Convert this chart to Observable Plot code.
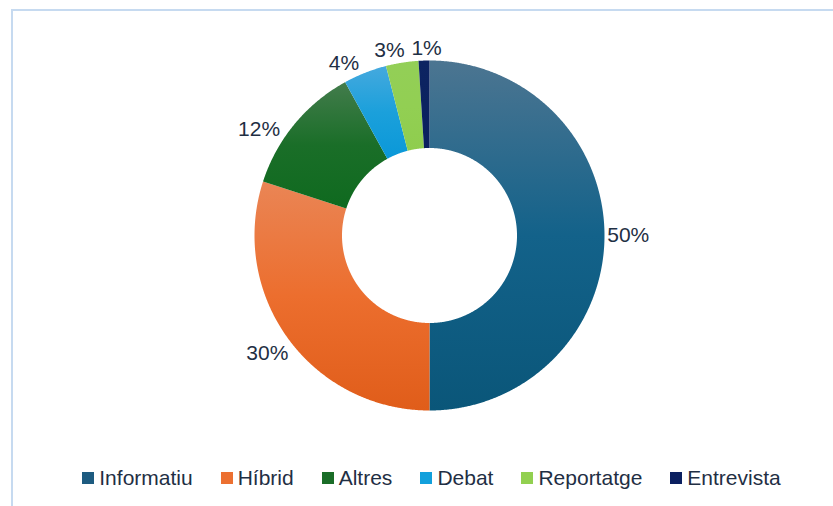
<!DOCTYPE html>
<html>
<head>
<meta charset="utf-8">
<script src="https://cdn.jsdelivr.net/npm/d3@7"></script>
<script src="https://cdn.jsdelivr.net/npm/@observablehq/plot@0.6"></script>
<style>
  html, body { margin: 0; padding: 0; background: #fff; }
  body { width: 833px; height: 506px; overflow: hidden; position: relative; font-family: "Liberation Sans", Arial, sans-serif; }
  #frame { position: absolute; left: 11px; top: 9px; width: 900px; height: 600px; border-left: 2px solid #c6daf0; border-top: 2px solid #c6daf0; }
  #chart { position: absolute; left: 0; top: 0; }
  #legend { position: absolute; left: 0; top: 466px; width: 803px; padding-left: 30px; display: flex; justify-content: center; align-items: center; font-size: 21px; color: #1f2f44; }
  .item { display: flex; align-items: center; margin: 0 14px; }
  .sw { width: 12px; height: 12px; margin-right: 5px; }
</style>
</head>
<body>
<div id="frame"></div>
<div id="chart"></div>
<div id="legend"></div>
<script>
const categories = ["Informatiu", "Híbrid", "Altres", "Debat", "Reportatge", "Entrevista"];
const values = [50, 30, 12, 4, 3, 1];
const labels = ["50%", "30%", "12%", "4%", "3%", "1%"];
const colorsTop = ["#4c7591", "#ea8555", "#437c4c", "#45a9de", "#93cf57", "#0d2462"];
const colorsMid = ["#13628a", "#ec6e2e", "#1a6e28", "#1ba0db", "#92cf53", "#0b2260"];
const colorsBottom = ["#0a5679", "#e05d1a", "#0f6a1f", "#0a98d8", "#8fcd4e", "#0a1f5e"];
const legendColors = ["#1d5b80", "#ec7031", "#1a6d28", "#12a0dc", "#92d050", "#0b2060"];
// label placement nudges (degrees along the ring), layout only
const labelNudge = [0, 0, -7.7, -4.8, -3.2, 0.9];

const W = 833, H = 460;
const cx = 429, cy = 235, R = 175;
const inner = 0.5;
const textColor = "#1f2f44";

const arcs = d3.pie().sort(null).value(d => d)(values);

// Build polygon outlines for each donut slice (in unit-radius data coordinates)
const pts = [];
arcs.forEach((a, i) => {
  const n = Math.max(4, Math.ceil((a.endAngle - a.startAngle) / 0.005));
  for (let k = 0; k <= n; k++) {
    const t = a.startAngle + (a.endAngle - a.startAngle) * k / n;
    pts.push({cat: categories[i], grad: `url(#g${i})`, x: Math.sin(t), y: Math.cos(t)});
  }
  for (let k = n; k >= 0; k--) {
    const t = a.startAngle + (a.endAngle - a.startAngle) * k / n;
    pts.push({cat: categories[i], grad: `url(#g${i})`, x: inner * Math.sin(t), y: inner * Math.cos(t)});
  }
});

// Label positions just outside the ring
const labelData = arcs.map((a, i) => {
  const m = (a.startAngle + a.endAngle) / 2 + labelNudge[i] * Math.PI / 180;
  const sx = Math.sin(m), sy = Math.cos(m);
  const w = labels[i].length * 14.5;
  const ex = Math.abs(sx) * w / 2 + Math.abs(sy) * 10;
  const r = 1 + (2 + ex) / R;
  return {label: labels[i], x: sx * r, y: sy * r};
});

const plot = Plot.plot({
  width: W,
  height: H,
  margin: 0,
  x: {domain: [-cx / R, (W - cx) / R], range: [0, W], axis: null},
  y: {domain: [(cy - H) / R, cy / R], range: [H, 0], axis: null},
  color: {type: "identity"},
  style: {background: "transparent", fontFamily: "Liberation Sans, Arial, sans-serif"},
  marks: [
    Plot.line(pts, {x: "x", y: "y", z: "cat", fill: "grad", stroke: "none", curve: "linear-closed"}),
    Plot.text(labelData, {x: "x", y: "y", text: "label", fontSize: 21, fill: textColor, textAnchor: "middle", lineAnchor: "middle"})
  ]
});

const defs = d3.select(plot).insert("defs", ":first-child");
categories.forEach((c, i) => {
  const g = defs.append("linearGradient").attr("id", `g${i}`).attr("x1", 0).attr("y1", 0).attr("x2", 0).attr("y2", 1);
  g.append("stop").attr("offset", "0%").attr("stop-color", colorsTop[i]);
  g.append("stop").attr("offset", "50%").attr("stop-color", colorsMid[i]);
  g.append("stop").attr("offset", "100%").attr("stop-color", colorsBottom[i]);
});

document.getElementById("chart").appendChild(plot);

const legend = d3.select("#legend");
categories.forEach((c, i) => {
  const it = legend.append("div").attr("class", "item");
  it.append("div").attr("class", "sw").style("background", legendColors[i]);
  it.append("span").text(c);
});
</script>
</body>
</html>
